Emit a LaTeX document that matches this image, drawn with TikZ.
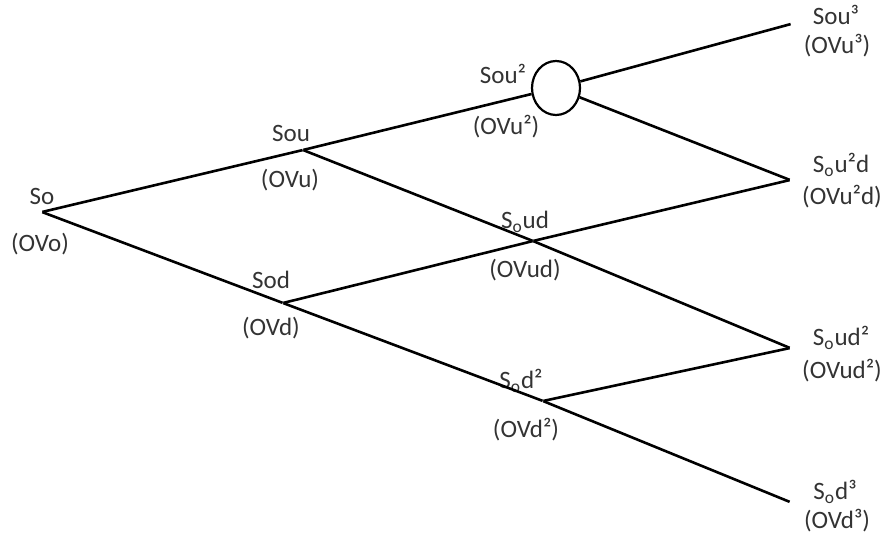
\documentclass[tikz,border=0pt]{standalone}
\usepackage{fontspec}
\setmainfont{Carlito}
\usetikzlibrary{shapes.geometric}

\begin{document}
\begin{tikzpicture}[x=0.5pt, y=-0.5pt,
	pt/.style={inner sep=0pt, minimum size=0pt},
	branch/.style={draw=black, line width=1.3pt},
	lbl/.style={font=\fontsize{12.5}{14}\selectfont, text=black!80, inner sep=0pt}]
				\useasboundingbox (0,0) rectangle (886,535);
				% lattice points
				\node[pt] (0) at (42,212) {};
				\node[pt] (u) at (303,150) {};
				\node[pt] (d) at (283,303) {};
				\node[draw, ellipse, line width=1.1pt, minimum width=24pt, minimum height=27pt, inner sep=0pt] (uu) at (556,88) {};
				\node[pt] (ud) at (533,241) {};
				\node[pt] (dd) at (543,401) {};
				\node[pt] (uuu) at (791,24) {};
				\node[pt] (uud) at (790,180) {};
				\node[pt] (udd) at (790,348) {};
				\node[pt] (ddd) at (790,502) {};
				
				% labels
				\node[lbl] (l0) at (42,196) {So};
				\node[lbl] (v0) at (40,244) {(OVo)};
				\node[lbl] (lu) at (291,133) {Sou};
				\node[lbl] (vu) at (290,180) {(OVu)};
				\node[lbl] (ld) at (271,280) {Sod};
				\node[lbl] (vd) at (271,328) {(OVd)};
				\node[lbl] (luu) at (503,74) {Sou²};
				\node[lbl] (vuu) at (506,127) {(OVu²)};
				\node[lbl] (lud) at (525,222) {S\textsubscript{o}ud};
				\node[lbl] (vud) at (525,270) {(OVud)};
				\node[lbl] (ldd) at (521,381) {S\textsubscript{o}d²};
				\node[lbl] (vdd) at (526,430) {(OVd²)};
				\node[lbl] (luuu) at (836,15) {Sou³};
				\node[lbl] (vuuu) at (837,46) {(OVu³)};
				\node[lbl] (luud) at (841,165) {S\textsubscript{o}u²d};
				\node[lbl] (vuud) at (842,197) {(OVu²d)};
				\node[lbl] (ludd) at (841,338) {S\textsubscript{o}ud²};
				\node[lbl] (vudd) at (842,371) {(OVud²)};
				\node[lbl] (lddd) at (835,492) {S\textsubscript{o}d³};
				\node[lbl] (vddd) at (837,521) {(OVd³)};
				
				% branches
				\draw[branch] (0) -- (u);
				\draw[branch] (0) -- (d);
				\draw[branch] (u) -- (uu);
				\draw[branch] (u) -- (ud);
				\draw[branch] (d) -- (ud);
				\draw[branch] (d) -- (dd);
				\draw[branch] (uu) -- (uuu);
				\draw[branch] (uu) -- (uud);
				\draw[branch] (ud) -- (uud);
				\draw[branch] (ud) -- (udd);
				\draw[branch] (dd) -- (udd);
				\draw[branch] (dd) -- (ddd);
\end{tikzpicture}
\end{document}
